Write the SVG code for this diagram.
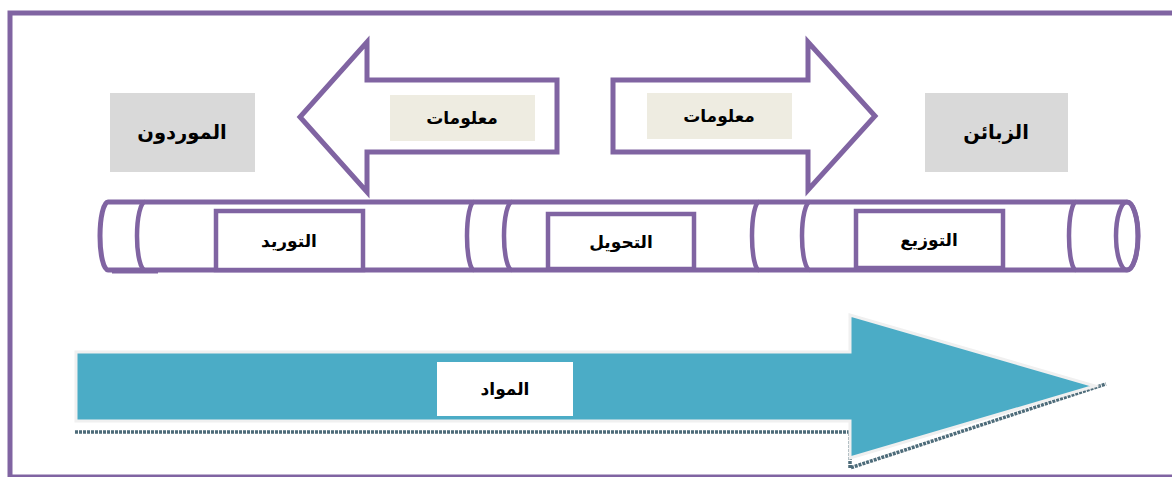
<svg xmlns="http://www.w3.org/2000/svg" width="1172" height="477" viewBox="0 0 1172 477">
  <style>
    .frame { fill: none; stroke: #8064A2; stroke-width: 5; }
    .purple { fill: #ffffff; stroke: #8064A2; stroke-width: 5; stroke-linejoin: miter; }
    .pipe { fill: #ffffff; stroke: #8064A2; stroke-width: 5; }
    .arc { fill: none; stroke: #8064A2; stroke-width: 4.5; }
    .gray { fill: #D9D9D9; }
    .info { fill: #EEECE1; }
    .stage { fill: #ffffff; stroke: #8064A2; stroke-width: 4.5; }
    .lbl { font-family: "DejaVu Sans", "Noto Sans", sans-serif; font-weight: bold; fill: #000000; text-anchor: middle; direction: rtl; }
  </style>

  <!-- outer frame -->
  <rect class="frame" x="10" y="13" width="1200" height="464"/>

  <g id="connectors">
    <!-- information arrow pointing to suppliers -->
    <polygon class="purple" points="557,80 367,80 367,42 300,117 367,192 367,152 557,152"/>
    <!-- information arrow pointing to customers -->
    <polygon class="purple" points="613,80 808,80 808,42 875,116 808,190 808,152 613,152"/>
    <!-- materials arrow -->
    <polyline points="75,432 850,432 850,468 1106,384" fill="none" stroke="#4E6C7A" stroke-width="3.5" stroke-dasharray="3 1"/>
    <polygon points="76,352 850,352 850,315 1095,386 850,458 850,421 76,421" fill="#4BACC6" stroke="#F0F0F0" stroke-width="3" stroke-linejoin="miter"/>
  </g>

  <g id="suppliers">
    <rect class="gray" x="110" y="93" width="145" height="79"/>
    <text class="lbl" x="182" y="139" font-size="19.5">الموردون</text>
  </g>

  <g id="customers">
    <rect class="gray" x="925" y="93" width="143" height="79"/>
    <text class="lbl" x="996" y="139" font-size="19.5">الزبائن</text>
  </g>

  <g id="info-left">
    <rect class="info" x="390" y="95" width="145" height="46"/>
    <text class="lbl" x="462" y="124" font-size="17">معلومات</text>
  </g>

  <g id="info-right">
    <rect class="info" x="647" y="93" width="145" height="46"/>
    <text class="lbl" x="719" y="122" font-size="17">معلومات</text>
  </g>

  <g id="pipe">
    <path class="pipe" d="M108,202 L1127,202 A11,34 0 0 1 1127,270 L108,270 A8,34 0 0 1 108,202 Z"/>
    <path d="M112,271 L158,271" stroke="#8064A2" stroke-width="5"/>
    <path class="arc" d="M145,202 A8,34 0 0 0 145,270"/>
    <path class="arc" d="M474,202 A7,34 0 0 0 474,270"/>
    <path class="arc" d="M512,202 A8,34 0 0 0 512,270"/>
    <path class="arc" d="M759,202 A7,34 0 0 0 759,270"/>
    <path class="arc" d="M810,202 A8,34 0 0 0 810,270"/>
    <path class="arc" d="M1076,202 A7,34 0 0 0 1076,270"/>
    <ellipse class="arc" cx="1127" cy="236" rx="11" ry="34"/>
  </g>

  <g id="supply">
    <rect class="stage" x="216" y="211" width="147" height="59"/>
    <text class="lbl" x="289" y="247" font-size="17">التوريد</text>
  </g>

  <g id="transform">
    <rect class="stage" x="548" y="214" width="146" height="55"/>
    <text class="lbl" x="621" y="248" font-size="17">التحويل</text>
  </g>

  <g id="distribute">
    <rect class="stage" x="856" y="211" width="147" height="57"/>
    <text class="lbl" x="929" y="246" font-size="17">التوزيع</text>
  </g>

  <g id="materials">
    <rect x="437" y="362" width="136" height="54" fill="#ffffff"/>
    <text class="lbl" x="505" y="395" font-size="17">المواد</text>
  </g>
</svg>
